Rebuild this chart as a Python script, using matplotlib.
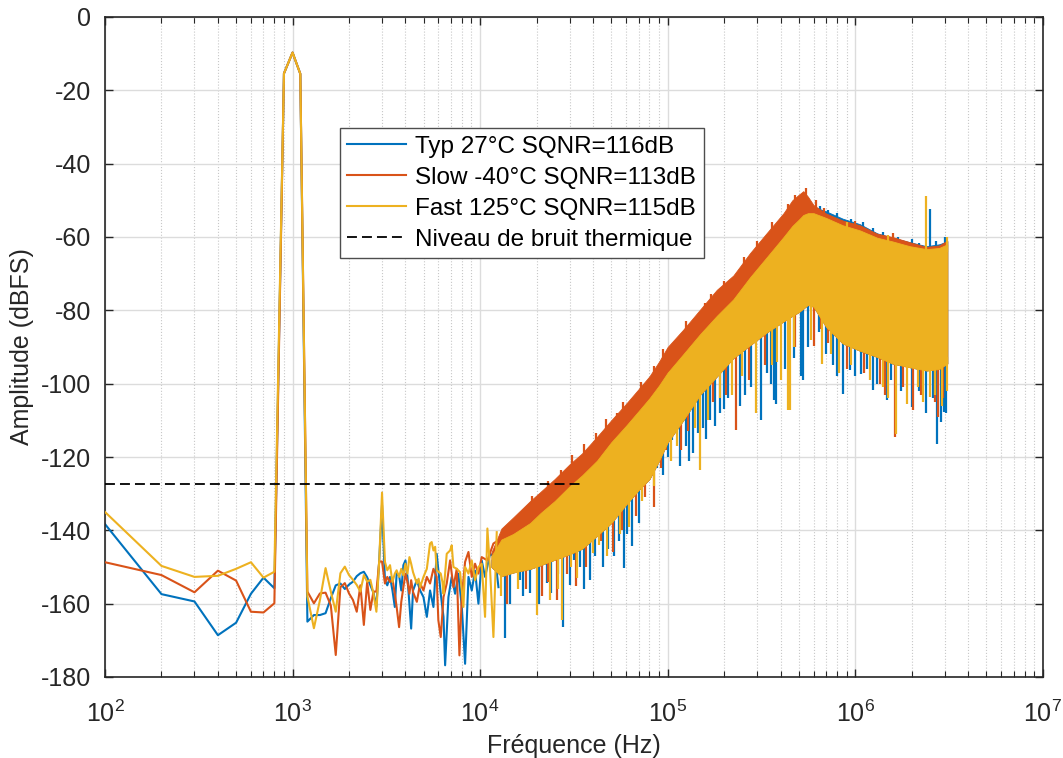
import matplotlib
matplotlib.use("Agg")
import matplotlib.pyplot as plt
import numpy as np

plt.rcParams["font.family"] = ["Liberation Sans", "DejaVu Sans"]
plt.rcParams["mathtext.fontset"] = "custom"
plt.rcParams["mathtext.rm"] = "Liberation Sans"
plt.rcParams["axes.unicode_minus"] = False

C_TYP = "#0072BD"
C_SLOW = "#D95319"
C_FAST = "#EDB120"

# ---- low-frequency bins (individual FFT lines) -------------------
f_lo = [100, 200, 300, 400, 500, 600, 700, 800, 900, 1000, 1100, 1200, 1300,
        1400, 1500, 1600, 1700, 1800, 1900, 2000, 2100, 2200, 2300, 2400, 2500,
        2600, 2700, 2800, 2900, 3000]

typ_lo = [-138.3, -157.4, -159.4, -168.6, -165.2, -157.3, -152.9, -155.8,
          -15.4, -9.7, -15.5, -164.9, -163.1, -163.1, -162.6, -158.5, -155.0,
          -154.5, -156.0, -154.8, -154.0, -152.5, -151.7, -151.3, -152.8,
          -155.0, -157.0, -160.8, -148.0, -133.1]
slow_lo = [-148.7, -152.2, -156.9, -151.0, -153.7, -162.2, -162.4, -159.9,
           -15.4, -9.7, -15.5, -156.7, -159.9, -157.2, -157.0, -160.5, -174.0,
           -155.5, -154.4, -157.2, -159.0, -162.2, -155.0, -165.8, -154.0,
           -161.7, -156.7, -156.7, -148.5, -148.5]
fast_lo = [-135.0, -149.7, -152.7, -152.4, -150.5, -148.7, -152.9, -151.3,
           -15.4, -9.7, -15.5, -158.0, -166.7, -159.0, -150.3, -156.7, -162.2,
           -151.7, -149.9, -152.2, -153.5, -154.9, -156.7, -152.2, -154.0,
           -153.5, -157.2, -162.2, -148.0, -129.7]

# ---- 3 kHz .. 12.5 kHz, still readable as lines --------------------
f_typ_mid = [3110, 3200, 3310, 3410, 3510, 3590, 3700, 3800, 3900, 4000, 4100,
             4290, 4390, 4600, 4790, 4990, 5200, 5410, 5640, 5870, 6170, 6380,
             6510, 6780, 7060, 7360, 7660, 7990, 8320, 8670, 9030, 9400, 9800,
             10200, 10630, 11310, 12020, 12530]
typ_mid = [-153.6, -155.0, -152.7, -156.4, -160.9, -151.8, -152.3, -156.4,
           -149.5, -148.2, -152.7, -166.8, -156.4, -153.6, -156.4, -158.2,
           -163.6, -156.4, -160.9, -146.4, -157.3, -163.6, -176.8, -158.2,
           -152.7, -157.3, -151.8, -160.9, -176.4, -152.7, -156.4, -151.0,
           -160.0, -148.2, -152.7, -146.4, -147.3, -155.5]

f_slow_mid = [3110, 3200, 3310, 3410, 3510, 3590, 3700, 3800, 3900, 4000,
              4100, 4200, 4290, 4390, 4600, 4790, 4990, 5200, 5410, 5640, 5870,
              5990, 6170, 6380, 6640, 6920, 7210, 7510, 7760, 7990, 8320, 8670,
              9030, 9400, 9800, 10200, 10940, 11780, 12530]
slow_mid = [-154.5, -152.7, -154.1, -153.2, -157.3, -160.9, -166.4, -159.5,
            -155.5, -151.8, -154.1, -157.3, -153.6, -156.8, -159.5, -154.5,
            -156.4, -152.7, -154.5, -150.5, -152.7, -164.5, -169.1, -158.2,
            -154.5, -148.2, -155.5, -150.5, -174.1, -158.2, -148.6, -145.9,
            -152.7, -149.1, -151.8, -147.3, -148.2, -143.6, -142.7]

f_fast_mid = [3110, 3200, 3310, 3410, 3510, 3590, 3700, 3800, 3900, 4000,
              4100, 4200, 4290, 4390, 4600, 4700, 4790, 4990, 5200, 5410, 5520,
              5640, 5760, 5870, 6170, 6300, 6380, 6640, 6920, 7060, 7210, 7510,
              7820, 8150, 8320, 8670, 9030, 9400, 9800, 10200, 10630, 10940,
              11310, 11780, 12270]
fast_mid = [-148.6, -150.9, -149.5, -154.1, -151.8, -150.9, -152.7, -150.5,
            -152.3, -149.1, -151.8, -147.3, -149.1, -151.4, -154.5, -153.2,
            -155.5, -152.7, -150.5, -143.6, -143.2, -145.5, -144.5, -150.9,
            -151.8, -154.1, -157.3, -146.4, -145.5, -144.1, -150.0, -150.5,
            -151.4, -160.9, -150.0, -151.8, -148.2, -153.6, -150.0, -149.1,
            -163.6, -139.5, -150.9, -169.1, -140.5]

# ---- dense part of the spectrum: band envelopes --------------------
f_env = [11.5e3, 13e3, 15e3, 18.5e3, 21e3, 25e3, 30e3, 35e3, 42e3, 50e3, 60e3,
         70e3, 80e3, 90e3, 100e3, 121e3, 149e3, 183e3, 224e3, 275e3, 338e3,
         415e3, 462e3, 500e3, 529e3, 560e3, 600e3, 700e3, 858e3, 1.06e6,
         1.31e6, 1.58e6, 1.95e6, 2.4e6, 2.8e6, 3.1e6]

slow_top = [-146.0, -139.5, -136.5, -132.0, -129.5, -126.0, -122.0, -119.0,
            -114.5, -110.0, -105.5, -101.5, -98.0, -94.0, -90.0, -85.3, -79.8,
            -74.4, -70.5, -64.4, -58.9, -53.5, -50.0, -48.5, -47.5, -49.0,
            -51.3, -53.6, -55.5, -56.8, -59.1, -60.0, -61.4, -62.7, -62.3, -61.0]
fast_top = [-147.0, -142.5, -141.0, -138.0, -135.3, -132.0, -128.0, -125.0,
            -121.0, -116.0, -111.5, -107.5, -104.0, -100.5, -97.0, -92.0,
            -86.5, -81.5, -77.0, -71.0, -65.5, -60.0, -57.0, -55.3, -54.0,
            -53.5, -53.5, -54.8, -56.8, -58.2, -60.2, -61.2, -62.5, -63.3,
            -63.0, -62.0]
typ_top = [-148.0, -144.0, -142.0, -139.0, -136.3, -133.0, -129.0, -126.0,
           -122.0, -117.0, -112.5, -108.5, -105.0, -101.5, -98.0, -93.0, -87.5,
           -82.5, -78.0, -72.0, -66.5, -61.0, -58.0, -56.3, -55.0, -53.0,
           -51.8, -53.0, -55.0, -56.5, -59.0, -60.2, -61.4, -62.5, -62.0, -61.2]
band_bottom = [-150.0, -152.5, -151.5, -150.5, -149.5, -148.0, -146.5, -145.0,
               -141.5, -138.0, -133.0, -129.0, -126.0, -121.0, -116.0, -110.0,
               -103.0, -98.0, -93.0, -89.5, -86.0, -83.0, -81.5, -80.5, -79.5,
               -78.5, -79.0, -84.5, -89.0, -91.0, -92.7, -94.5, -95.5, -96.4,
               -96.0, -94.5]

# downward spikes poking out under the band (frequency, minimum dB)
typ_spike_f = [13.6e3, 14.5e3, 16.4e3, 17e3, 18.5e3, 20.5e3, 22.7e3, 24e3,
               26e3, 27.8e3, 30e3, 31.5e3, 34e3, 36e3, 38.6e3, 41e3, 45e3,
               48e3, 52e3, 55e3, 58.4e3, 61e3, 64.8e3, 70e3, 75e3, 80.6e3,
               88e3, 95e3, 100e3, 106e3, 116e3, 125e3, 130e3, 136e3, 145e3,
               155e3, 160e3, 169e3, 180e3, 191e3, 200e3, 210e3, 244e3, 260e3,
               280e3, 316e3, 340e3, 355e3, 370e3, 379e3, 420e3, 470e3, 514e3,
               529e3, 560e3, 640e3, 700e3, 760e3, 800e3, 859e3, 935e3, 1.0e6,
               1.07e6, 1.15e6, 1.24e6, 1.3e6, 1.47e6, 1.55e6, 1.75e6, 2.0e6,
               2.2e6, 2.4e6, 2.6e6, 2.73e6, 2.86e6, 2.99e6, 3.05e6]
typ_spike_db = [-169.4, -160.0, -153.5, -158.0, -157.0, -160.0, -154.4, -157.0,
                -152.0, -166.4, -155.0, -148.0, -150.0, -156.0, -153.5, -147.0,
                -150.0, -145.0, -147.0, -143.0, -150.3, -141.0, -144.4, -138.0,
                -126.0, -122.5, -123.0, -125.0, -120.0, -115.3, -122.5, -117.0,
                -121.0, -118.9, -113.5, -112.0, -115.0, -109.8, -111.6, -108.0,
                -107.0, -104.0, -106.0, -103.0, -101.0, -110.0, -97.0, -100.0,
                -104.4, -105.5, -96.0, -93.0, -98.0, -99.1, -90.0, -86.0, -92.0,
                -95.0, -98.0, -102.7, -96.4, -98.0, -97.3, -96.0, -101.8,
                -100.0, -104.5, -99.0, -102.0, -106.4, -102.0, -108.0, -104.0,
                -116.4, -110.5, -107.7, -108.0]
slow_spike_f = [14e3, 17.5e3, 21.5e3, 23e3, 25.6e3, 29e3, 32.6e3, 36.5e3,
                44e3, 51e3, 57e3, 68e3, 76e3, 84.2e3, 92e3, 98e3, 118e3, 128e3,
                175e3, 205e3, 232e3, 270e3, 330e3, 480e3, 600e3, 660e3, 720e3,
                900e3, 1.12e6, 1.35e6, 1.45e6, 1.63e6, 1.8e6, 2.04e6, 2.25e6,
                2.65e6, 2.78e6, 2.95e6]
slow_spike_db = [-160.0, -156.0, -158.0, -154.0, -158.9, -152.0, -155.3,
                 -150.0, -143.0, -146.0, -140.0, -136.0, -131.0, -133.5,
                 -123.0, -118.0, -118.0, -113.0, -105.0, -103.0, -112.5, -99.0,
                 -95.0, -90.0, -89.8, -85.0, -89.0, -96.0, -97.0, -100.0,
                 -103.0, -114.5, -101.0, -107.3, -103.0, -105.0, -109.1, -104.0]
fast_spike_f = [13e3, 16e3, 20e3, 23.5e3, 26e3, 27.4e3, 30.5e3, 33e3, 40e3,
                43e3, 47.5e3, 56e3, 62e3, 73e3, 85e3, 104e3, 112e3, 140e3,
                149e3, 165e3, 190e3, 220e3, 250e3, 297e3, 360e3, 385e3, 400e3,
                437e3, 447e3, 470e3, 580e3, 664e3, 740e3, 820e3, 950e3, 1.2e6,
                1.4e6, 1.5e6, 1.66e6, 1.9e6, 2.15e6, 2.3e6, 2.52e6, 2.65e6,
                2.9e6, 3.08e6]
fast_spike_db = [-158.0, -156.0, -163.0, -159.0, -156.0, -164.4, -150.0,
                 -153.0, -146.2, -144.0, -147.1, -141.0, -139.0, -132.0,
                 -128.0, -121.0, -117.0, -112.0, -123.5, -110.0, -104.0,
                 -103.0, -98.0, -108.0, -95.0, -94.0, -98.9, -107.1, -107.3,
                 -90.0, -88.0, -94.5, -92.0, -97.0, -95.0, -99.0, -101.0,
                 -104.0, -113.6, -105.5, -101.0, -105.0, -103.6, -103.0,
                 -106.0, -102.0]

# spikes standing above the band
slow_tip_f = [19e3, 23e3, 27e3, 31e3, 36e3, 41.4e3, 47e3, 53.6e3, 58e3,
              65.2e3, 72e3, 84.3e3, 95e3, 110e3, 125e3, 143e3, 158e3, 170e3,
              200e3, 232e3, 255e3, 300e3, 360e3, 440e3, 480e3, 545e3, 620e3,
              680e3, 1.0e6, 1.6e6]
slow_tip_db = [-130.5, -126.5, -123.5, -119.5, -116.5, -113.5, -109.5, -108.0,
               -105.0, -106.2, -99.5, -95.3, -90.5, -88.9, -83.0, -82.5, -78.0,
               -75.5, -72.0, -72.5, -65.5, -61.0, -56.0, -51.0, -48.5, -46.5,
               -50.0, -52.0, -55.5, -59.0]
typ_tip_f = [650e3, 720e3, 800e3, 950e3, 1.1e6, 1.25e6, 1.4e6, 1.7e6, 2.0e6,
             2.2e6, 2.52e6, 2.7e6, 3.0e6]
typ_tip_db = [-51.5, -52.5, -53.5, -55.0, -56.0, -57.5, -58.5, -60.0, -60.5,
              -61.5, -52.3, -61.0, -60.0]
fast_tip_f = [900e3, 1.5e6, 2.39e6, 3.08e6]
fast_tip_db = [-56.0, -59.5, -48.9, -60.0]

noise_floor_db = -127.4
noise_span = [100, 34.8e3]

labels = ["Typ 27°C SQNR=116dB", "Slow -40°C SQNR=113dB",
          "Fast 125°C SQNR=115dB", "Niveau de bruit thermique"]


def draw_series(ax, color, f_a, y_a, f_b, y_b, top, spike_f, spike_db,
                tip_f, tip_db, z):
    """Line part, dense band and its spikes for one corner."""
    ax.plot(f_a + f_b, y_a + y_b, color=color, lw=1.5, zorder=z)
    ax.fill_between(f_env, band_bottom, top, color=color, lw=0.6,
                    edgecolor=color, zorder=z)
    lf = np.log10(f_env)
    base = np.interp(np.log10(spike_f), lf, band_bottom)
    ax.vlines(spike_f, spike_db, base + 2, color=color, lw=1.6, zorder=z)
    ceil = np.interp(np.log10(tip_f), lf, top)
    ax.vlines(tip_f, ceil - 2, tip_db, color=color, lw=1.6, zorder=z)


fig = plt.figure(figsize=(10.63, 7.58), dpi=100)
ax = fig.add_axes([105 / 1063, 1 - 677 / 758, 937.7 / 1063, 660 / 758])

draw_series(ax, C_TYP, f_lo, typ_lo, f_typ_mid, typ_mid, typ_top,
            typ_spike_f, typ_spike_db, typ_tip_f, typ_tip_db, 2)
draw_series(ax, C_SLOW, f_lo, slow_lo, f_slow_mid, slow_mid, slow_top,
            slow_spike_f, slow_spike_db, slow_tip_f, slow_tip_db, 3)
draw_series(ax, C_FAST, f_lo, fast_lo, f_fast_mid, fast_mid, fast_top,
            fast_spike_f, fast_spike_db, fast_tip_f, fast_tip_db, 4)

ax.plot(noise_span, [noise_floor_db, noise_floor_db], color="black", lw=1.3,
        dashes=(5.5, 2.8), zorder=5)

ax.set_xscale("log")
ax.set_xlim(1e2, 1e7)
ax.set_ylim(-180, 0)
ax.set_yticks(np.arange(-180, 1, 20))

ax.grid(True, which="major", color="#dcdcdc", lw=1.0, zorder=0)
ax.grid(True, which="minor", axis="x", color="#c8c8c8", lw=0.8, ls=":",
        zorder=0)
ax.set_axisbelow(True)

for s in ax.spines.values():
    s.set_color("#262626")
    s.set_linewidth(1.2)
ax.tick_params(which="both", direction="in", top=True, right=True,
               color="#262626", labelcolor="#262626", labelsize=18)
ax.tick_params(which="major", length=6, width=1.0)
ax.tick_params(axis="x", which="major", pad=17)
ax.tick_params(axis="y", which="major", pad=10)
ax.tick_params(which="minor", length=4, width=0.8)
ax.tick_params(axis="y", which="minor", left=False, right=False)

ax.set_xlabel("Fréquence (Hz)", fontsize=18, color="#262626", labelpad=5)
ax.set_ylabel("Amplitude (dBFS)", fontsize=18, color="#262626", labelpad=5)

handles = [plt.Line2D([], [], color=C_TYP, lw=1.5),
           plt.Line2D([], [], color=C_SLOW, lw=1.5),
           plt.Line2D([], [], color=C_FAST, lw=1.5),
           plt.Line2D([], [], color="black", lw=1.3, dashes=(5.5, 2.8))]
leg = ax.legend(handles, labels, loc="upper left",
                bbox_to_anchor=(0.2506, 0.8314), borderaxespad=0,
                fontsize=17.5, fancybox=False, framealpha=1,
                handlelength=2.4, handletextpad=0.4, labelspacing=0.37,
                borderpad=0.3)
leg.get_frame().set_edgecolor("#4d4d4d")
leg.get_frame().set_linewidth(1.0)
leg.set_zorder(10)

fig.savefig("out.png", dpi=100)
